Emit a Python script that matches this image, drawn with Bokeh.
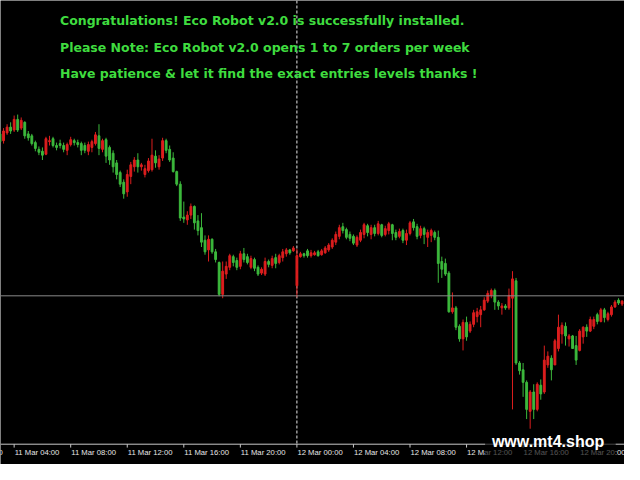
from bokeh.plotting import figure
from bokeh.models import Range1d, Span, Label, BoxAnnotation
from bokeh.embed import file_html
from bokeh.resources import INLINE

# ---- data: M15 candles, 11 Mar 03:00 .. 12 Mar 23:00 ----
# prices are given in points below the reference price REF
REF = 1.10000
POINT = 0.00001
first_hour = 3.0          # 11 Mar 03:00, hours since 11 Mar 00:00
bar_hours = 0.25          # M15

open_pts = [138,145,137,131,134,123,132,126,138,140,147,154,156,159,146,143,150,148,150,155,
            149,145,147,148,150,156,152,148,140,154,144,152,158,168,178,188,198,182,172,165,
            172,180,176,175,161,172,163,145,154,163,177,190,224,227,222,213,228,235,248,258,
            247,260,271,304,283,276,265,269,275,262,265,276,268,276,282,283,270,274,266,271,
            266,262,258,259,295,265,262,259,264,263,260,263,261,258,255,250,244,234,237,242,
            244,253,248,242,233,242,235,241,232,242,238,232,240,244,238,248,241,229,234,243,
            236,245,243,240,245,270,272,282,322,318,337,350,333,342,335,327,325,320,311,305,
            300,312,318,316,318,308,290,375,382,395,425,405,423,398,405,377,370,377,360,345,
            337,350,347,357,362,348,338,342,337,325,332,320,330,325,317,310,314]
high_pts = [135,132,128,126,119,118,121,125,135,138,145,151,152,141,140,141,147,144,147,147,
            141,143,144,146,147,146,144,136,128,143,142,150,155,165,176,185,175,167,162,158,
            168,170,163,143,155,160,142,143,150,157,176,187,208,218,210,212,222,220,243,243,
            246,257,270,270,270,262,263,266,259,256,262,264,266,274,276,266,268,264,262,262,
            257,256,257,254,257,260,261,257,258,259,258,257,254,251,246,239,232,230,235,239,
            242,243,237,230,231,232,232,228,231,233,229,231,237,236,236,237,228,226,231,233,
            234,237,236,238,238,265,267,280,302,316,335,330,327,332,320,318,316,307,300,298,
            298,310,313,314,298,280,287,373,375,393,403,397,395,392,357,363,367,350,325,333,
            333,345,346,347,340,337,335,327,327,323,318,318,322,315,310,308,310]
low_pts = [148,148,139,138,136,136,134,143,145,150,156,160,165,160,150,152,155,153,157,160,
           151,150,152,160,158,160,157,150,160,157,168,170,178,185,193,205,203,190,177,178,
           176,183,178,177,173,175,166,158,167,178,192,228,230,232,226,237,243,255,263,270,
           262,271,306,308,288,279,275,279,278,271,273,278,280,285,284,285,276,277,277,273,
           270,265,263,260,307,266,266,266,266,264,265,264,262,260,257,253,247,241,247,249,
           253,255,250,246,244,247,244,243,245,244,242,248,248,246,251,253,243,238,247,246,
           252,255,250,248,292,287,285,323,324,341,353,362,352,344,338,333,338,321,313,308,
           320,320,325,320,320,423,377,387,410,433,443,433,425,413,407,380,393,377,363,355,
           357,358,360,377,363,355,348,343,340,335,333,333,332,327,318,315,316]
close_pts = [146,135,131,135,123,134,124,140,142,148,153,157,160,143,145,150,152,150,154,149,
             144,147,149,155,155,149,146,139,153,145,161,165,172,180,190,200,180,170,165,172,
             170,174,166,160,168,164,145,155,165,177,190,225,226,222,213,230,238,250,260,247,
             260,268,304,280,275,264,271,276,262,268,271,267,277,283,278,270,273,267,272,264,
             260,258,261,256,264,262,264,264,261,261,264,259,256,253,248,242,235,238,245,246,
             251,245,240,232,240,235,241,231,243,236,231,241,245,239,248,241,230,235,244,236,
             242,240,238,245,272,278,283,322,318,338,350,333,348,335,323,322,320,310,303,300,
             312,316,316,318,305,288,375,383,395,423,405,423,397,407,372,368,382,352,338,336,
             347,347,360,372,342,338,342,330,330,332,320,328,324,317,312,313,311]

bid_level_pts = 305.5      # horizontal price line
day_separator_hour = 24.0  # 12 Mar 00:00

tick_hours = [0, 4, 8, 12, 16, 20, 24, 28, 32, 36, 40, 44]
tick_labels = ["11 Mar 00:00", "11 Mar 04:00", "11 Mar 08:00", "11 Mar 12:00", "11 Mar 16:00",
               "11 Mar 20:00", "12 Mar 00:00", "12 Mar 04:00", "12 Mar 08:00", "12 Mar 12:00",
               "12 Mar 16:00", "12 Mar 20:00"]

messages = ["Congratulations! Eco Robot v2.0 is successfully installed.",
            "Please Note: Eco Robot v2.0 opens 1 to 7 orders per week",
            "Have patience & let it find the exact entries levels thanks !"]
watermark = "www.mt4.shop"

# ---- layout (chart window geometry: 14.5 px per hour, 640x480 window scaled into the figure) ----
PX_H = 14.5
def hx(px):            # window pixel column -> hours
    return (px + 44) / PX_H
def py(px):            # window pixel row -> price
    return REF - px * POINT

# ---- derived ----
def to_price(pts):
    return [REF - v * POINT for v in pts]

o = to_price(open_pts)
h = to_price(high_pts)
l = to_price(low_pts)
c = to_price(close_pts)
t = [first_hour + bar_hours * i for i in range(len(c))]
UP = "#dc1e1e"
DOWN = "#3cb83c"
colors = [UP if cc > oo else DOWN for oo, cc in zip(o, c)]
tops = [max(a, b) for a, b in zip(o, c)]
bots = [min(a, b) for a, b in zip(o, c)]

p = figure(width=624, height=464, output_backend="svg", toolbar_location=None,
           x_range=Range1d(hx(0), hx(640)), y_range=Range1d(py(480), py(0)),
           background_fill_color="black", border_fill_color="black",
           min_border=0, x_axis_location=None, y_axis_location=None)
p.outline_line_color = None
p.grid.visible = False

axis_level = py(459)
AXIS_COL = "#c8c8c8"

# time axis strip
p.add_layout(Span(location=axis_level, dimension="width", line_color=AXIS_COL, line_width=1))
p.segment(x0=tick_hours, y0=[axis_level] * len(tick_hours), x1=tick_hours,
          y1=[py(462.5)] * len(tick_hours), line_color=AXIS_COL, line_width=1)
p.text(x=tick_hours, y=[py(467.5)] * len(tick_hours), text=tick_labels, x_offset=0.5,
       text_align="left", text_baseline="middle", text_color="#e6e6e6",
       text_font={"value": "Liberation Sans"}, text_font_size="7.7px")

# price line and day separator
p.add_layout(Span(location=py(bid_level_pts), dimension="width",
                  line_color="#8a8a8a", line_width=1))
p.segment(x0=[day_separator_hour], y0=[py(0)], x1=[day_separator_hour], y1=[axis_level],
          line_color="#e8e8e8", line_width=1, line_dash="3 2")

# candles
p.segment(x0=t, y0=h, x1=t, y1=l, line_color=colors, line_width=1)
p.vbar(x=t, top=tops, bottom=bots, width=0.13, fill_color=colors, line_color=colors, line_width=1)

msg_y = [21, 48.5, 76]
for txt, yy in zip(messages, msg_y):
    p.add_layout(Label(x=hx(61), y=py(yy), text=txt, text_color="#3fdc3f",
                       text_font="DejaVu Sans", text_font_style="bold", text_font_size="12.5px",
                       text_baseline="middle"))

p.add_layout(BoxAnnotation(left=hx(497), right=hx(631), bottom=py(480), top=py(445),
                           fill_color="black", fill_alpha=0.65, line_color=None))
p.add_layout(Label(x=hx(504), y=py(456), text=watermark, text_color="white",
                   text_font="Liberation Sans", text_font_style="bold", text_font_size="16px",
                   text_baseline="middle"))

open("out.html", "w").write(file_html(p, INLINE))
